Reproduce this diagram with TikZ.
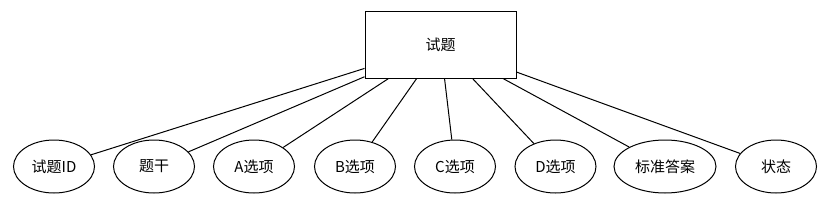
\documentclass[tikz,border=0pt]{standalone}
\usepackage{fontspec}
\newfontfamily\cjk{Noto Sans CJK SC}
\usetikzlibrary{shapes.geometric}
\begin{document}
\begin{tikzpicture}[x=1pt,y=-1pt,
  entity/.style={draw,line width=1pt,rectangle,minimum width=151pt,minimum height=67pt,inner sep=0pt,font=\cjk\fontsize{15}{18}\selectfont},
  attr/.style={draw,line width=1pt,ellipse,minimum width=81pt,minimum height=53pt,inner sep=0pt,font=\cjk\fontsize{15}{18}\selectfont},
  link/.style={line width=1pt}]
\useasboundingbox (0,0) rectangle (831,218);
\node[entity] (e) at (440.5,44.5) {试题};
\node[attr] (a1) at (54,166.5) {试题ID};
\node[attr] (a2) at (154,166.5) {题干};
\node[attr] (a3) at (254,166.5) {A选项};
\node[attr] (a4) at (355,166.5) {B选项};
\node[attr] (a5) at (455,166.5) {C选项};
\node[attr] (a6) at (555.5,166.5) {D选项};
\node[attr,minimum width=102pt] (a7) at (665,166.5) {标准答案};
\node[attr] (a8) at (776,166.5) {状态};
\foreach \i in {1,...,8} {\draw[link] (e) -- (a\i);}
\end{tikzpicture}
\end{document}
